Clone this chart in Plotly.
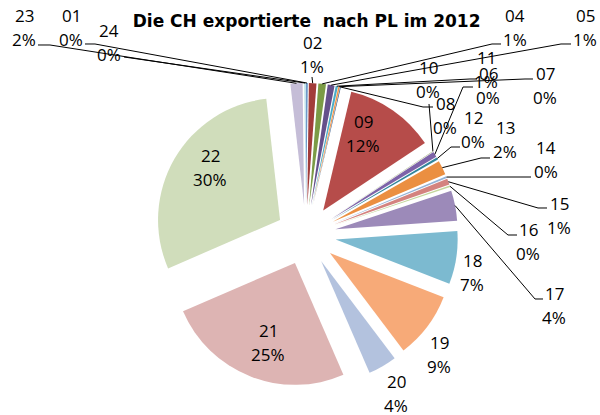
import math
import plotly.graph_objects as go

# ---------------- data ----------------
categories = ["01", "02", "04", "05", "06", "07", "08", "09", "10", "11", "12", "13",
              "14", "15", "16", "17", "18", "19", "20", "21", "22", "23", "24"]
values = [0.2, 1.0, 1.0, 0.9, 0.3, 0.2, 0.1, 12.0, 0.05, 0.7, 0.3, 1.9,
          0.25, 0.8, 0.2, 4.0, 7.0, 8.8, 3.8, 25.0, 29.7, 1.6, 0.2]
colors = ["#4F81BD", "#A23C3A", "#7B9B46", "#65508B", "#4BACC6", "#F79646", "#385D8A",
          "#B64C4A", "#71893F", "#7D63A8", "#31859C", "#EB8F41", "#95B3D7", "#D4837F",
          "#C3D69B", "#9C8AB9", "#7CBAD0", "#F7AA78", "#B3C2DE", "#DDB4B3", "#D0DDBB",
          "#C5BDD7", "#B7DEE8"]
title_text = "<b>Die CH exportierte\u00a0 nach PL im 2012</b>"

# ---------------- layout (pixel positions of label text, leader elbows) ----------------
W, H = 600, 415
DOM_X = [0.2567, 0.7633]
DOM_Y = [0.0675, 0.8]
PULL = 0.246
LINE_GAP = 24

# label centre (x, y of first line); leader: list of points from label side to elbow
LABEL_LAYOUT = {
    "23": ((24, 16), [(38, 45), (50, 45)]),
    "01": ((71, 16), [(85, 44), (95, 44)]),
    "24": ((109, 31), [(124, 57)]),
    "02": ((312, 42), [(312, 77)]),
    "04": ((515, 15), [(501, 44), (492, 44)]),
    "05": ((585, 15), [(571, 44), (561, 44)]),
    "06": ((488, 73), [(477, 79), (470, 79)]),
    "07": ((545, 73), [(533, 79), (525, 79)]),
    "08": ((445, 103), [(433, 107), (423, 107)]),
    "10": ((428, 68), [(429, 104)]),
    "11": ((486, 57), [(473, 87), (463, 87)]),
    "12": ((473, 117), [(460, 147), (451, 147)]),
    "13": ((505, 127), [(490, 158), (481, 158)]),
    "14": ((546, 147), [(531, 177), (521, 177)]),
    "15": ((559, 203), [(547, 208), (538, 208)]),
    "16": ((528, 229), [(517, 235), (508, 235)]),
    "17": ((554, 293), [(543, 299), (535, 299)]),
    "18": ((472, 260), None),
    "19": ((439, 342), None),
    "20": ((396, 381), None),
    "21": ((268, 330), None),
    "22": ((210, 155), None),
    "09": ((363, 121), None),
}

LABEL_FONT = dict(family="Open Sans, sans-serif", size=17, color="#000000")

# ---------------- pie ----------------
fig = go.Figure(go.Pie(
    labels=categories,
    values=values,
    sort=False,
    direction="clockwise",
    rotation=0,
    pull=[PULL] * len(categories),
    marker=dict(colors=colors, line=dict(width=0)),
    textinfo="none",
    domain=dict(x=DOM_X, y=DOM_Y),
    showlegend=False,
    hoverinfo="label+percent",
))

# geometry as plotly computes it
box_w = W * (DOM_X[1] - DOM_X[0])
box_h = H * (DOM_Y[1] - DOM_Y[0])
r = min(box_w, box_h) / 2 / (1 + PULL)
cx = W * (DOM_X[0] + DOM_X[1]) / 2
cy = H * (1 - (DOM_Y[0] + DOM_Y[1]) / 2)
total = sum(values)


def px(x, y):
    return x / W, 1 - y / H


annotations = []
shapes = []
cum = 0.0
for cat, v in zip(categories, values):
    mid = (cum + v / 2) / total
    cum += v
    ang = 2 * math.pi * mid
    dx, dy = math.sin(ang), -math.cos(ang)
    anchor = (cx + (r + PULL * r) * dx, cy + (r + PULL * r) * dy)
    (lx, ly), leader = LABEL_LAYOUT[cat]
    pct = f"{round(100 * v / total)}%"
    for i, t in enumerate([cat, pct]):
        xx, yy = px(lx, ly + i * LINE_GAP)
        annotations.append(dict(x=xx, y=yy, xref="paper", yref="paper", text=t,
                                showarrow=False, xanchor="center", yanchor="middle",
                                font=LABEL_FONT))
    if leader:
        pts = leader + [anchor]
        path = "M " + " L ".join(f"{px(a, b)[0]:.5f},{px(a, b)[1]:.5f}" for a, b in pts)
        shapes.append(dict(type="path", path=path, xref="paper", yref="paper",
                           line=dict(color="#000000", width=1)))

fig.update_layout(
    width=W, height=H,
    margin=dict(l=0, r=0, t=0, b=0),
    paper_bgcolor="white",
    plot_bgcolor="white",
    title=dict(text=title_text, x=0.511, xanchor="center",
               y=1 - 21 / H, yanchor="middle",
               font=dict(family="DejaVu Sans, sans-serif", size=17, color="#000000")),
    annotations=annotations,
    shapes=shapes,
)

fig.write_html("out.html", config={"displayModeBar": False},
               post_script="document.body.style.margin='0px';")
